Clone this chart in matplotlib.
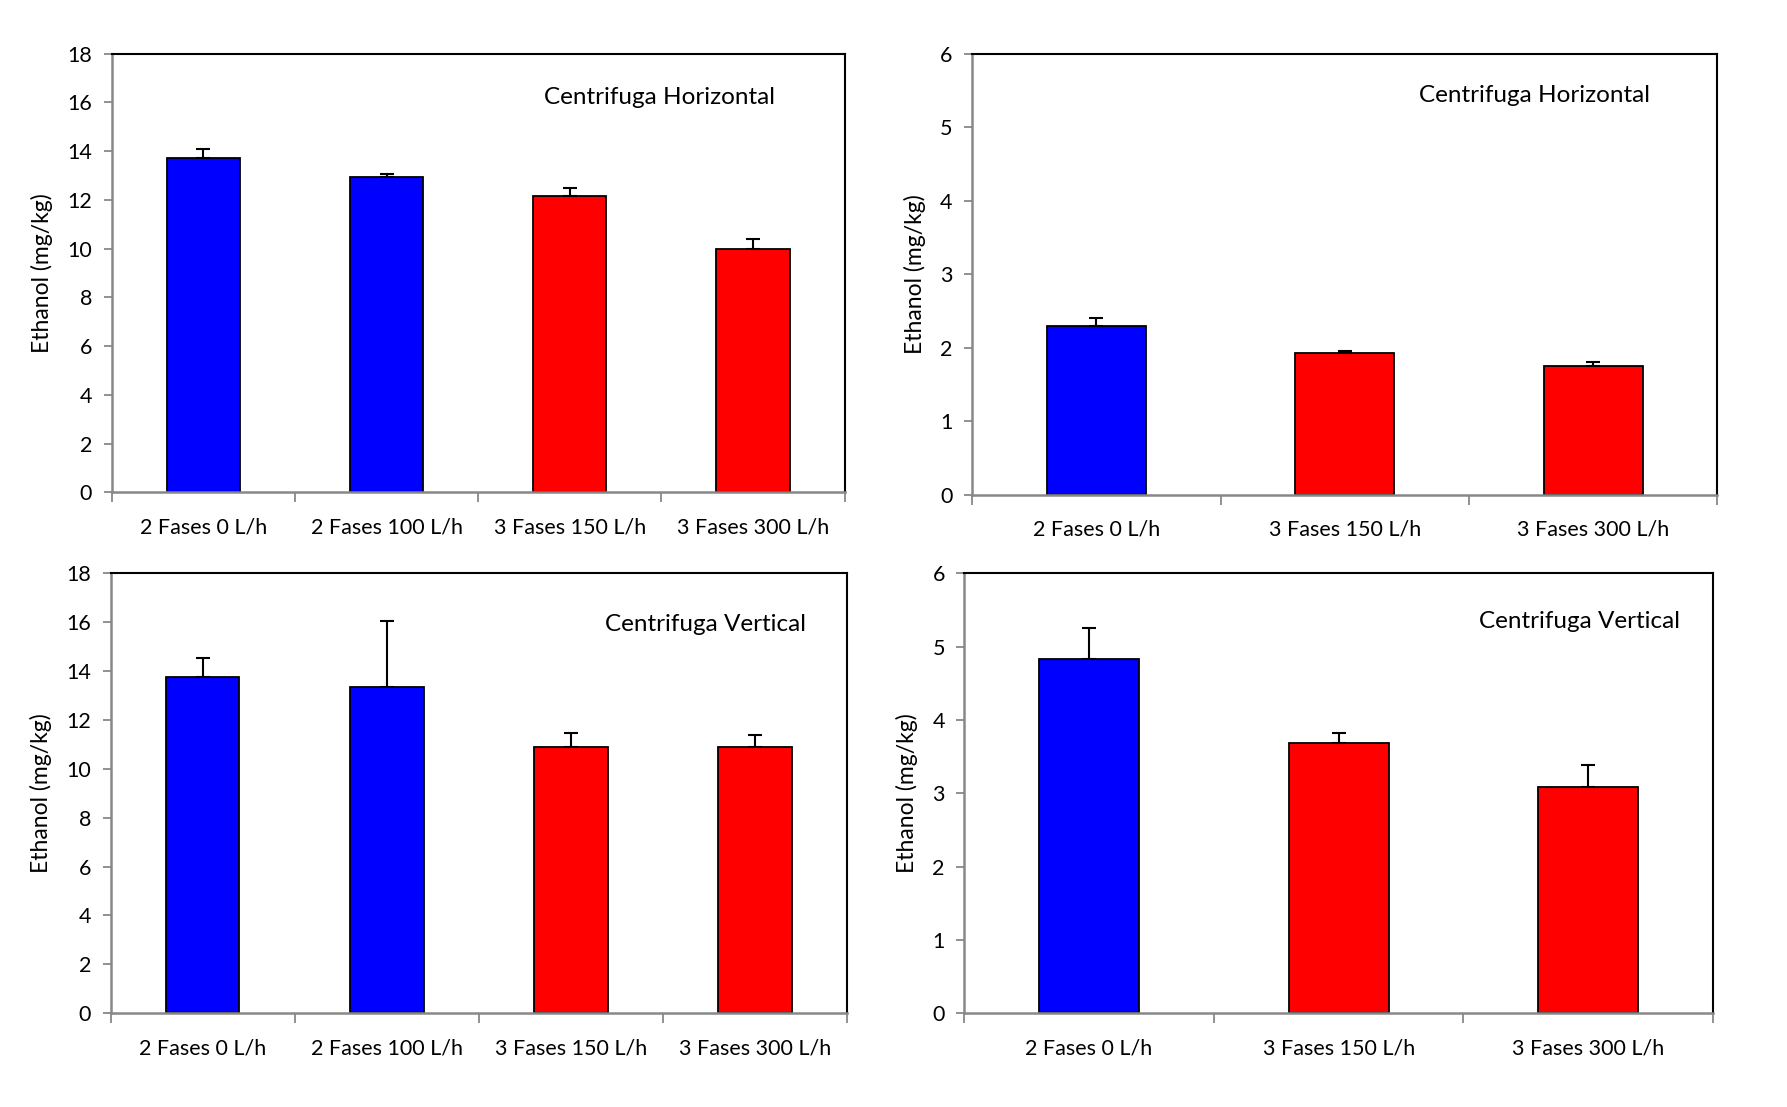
import matplotlib
matplotlib.use("Agg")
import matplotlib.pyplot as plt
import numpy as np

plt.rcParams['font.family'] = ['Lato', 'DejaVu Sans']

# Data
cats_4 = ["2 Fases 0 L/h", "2 Fases 100 L/h", "3 Fases 150 L/h", "3 Fases 300 L/h"]
cats_3 = ["2 Fases 0 L/h", "3 Fases 150 L/h", "3 Fases 300 L/h"]
colors_4 = ["#0000ff", "#0000ff", "#ff0000", "#ff0000"]
colors_3 = ["#0000ff", "#ff0000", "#ff0000"]

h_left_vals = [13.7, 12.95, 12.15, 10.0]
h_left_err = [0.4, 0.1, 0.32, 0.38]
h_right_vals = [2.29, 1.92, 1.75]
h_right_err = [0.11, 0.03, 0.05]
v_left_vals = [13.76, 13.34, 10.91, 10.91]
v_left_err = [0.78, 2.7, 0.56, 0.47]
v_right_vals = [4.83, 3.68, 3.09]
v_right_err = [0.42, 0.14, 0.30]

title_h = "Centrifuga Horizontal"
title_v = "Centrifuga Vertical"
ylabel = "Ethanol (mg/kg)"

fig = plt.figure(figsize=(17.87, 11.07), dpi=100)

panels = [
    ([0.0625, 0.5552, 0.4101, 0.3964], cats_4, h_left_vals, h_left_err, colors_4, 18, 2, title_h, (0.748, 0.901)),
    ([0.5440, 0.5532, 0.4171, 0.3984], cats_3, h_right_vals, h_right_err, colors_3, 6, 1, title_h, (0.755, 0.904)),
    ([0.0619, 0.0847, 0.4120, 0.3974], cats_4, v_left_vals, v_left_err, colors_4, 18, 2, title_v, (0.808, 0.883)),
    ([0.5396, 0.0847, 0.4190, 0.3974], cats_3, v_right_vals, v_right_err, colors_3, 6, 1, title_v, (0.822, 0.891)),
]

for rect, cats, vals, errs, cols, ymax, ystep, title, tpos in panels:
    ax = fig.add_axes(rect)
    x = np.arange(len(cats))
    ax.bar(x, vals, width=0.4, color=cols, edgecolor='black', linewidth=1.3, zorder=2)
    ax.errorbar(x, vals, yerr=[np.zeros(len(vals)), errs], fmt='none', ecolor='black',
                elinewidth=1.5, capsize=5, capthick=1.5, zorder=3)
    ax.set_xlim(-0.5, len(cats) - 0.5)
    ax.set_ylim(0, ymax)
    ax.set_yticks(np.arange(0, ymax + 0.01, ystep))
    ax.tick_params(axis='y', direction='out', length=6, width=1.3, color='#888888',
                   labelsize=15.5, pad=8)
    ax.set_xticks(np.arange(-0.5, len(cats), 1.0))
    ax.set_xticklabels([])
    ax.set_xticks(x, minor=True)
    ax.set_xticklabels(cats, minor=True, fontsize=15.5)
    ax.tick_params(axis='x', which='major', direction='out', length=7, width=1.3, color='#888888')
    ax.tick_params(axis='x', which='minor', length=0, pad=18)
    for side in ['left', 'bottom']:
        ax.spines[side].set_color('#888888')
        ax.spines[side].set_linewidth(1.8)
    for side in ['top', 'right']:
        ax.spines[side].set_color('black')
        ax.spines[side].set_linewidth(1.5)
    ax.set_ylabel(ylabel, fontsize=16.5, labelpad=10)
    ax.text(tpos[0], tpos[1], title, transform=ax.transAxes, ha='center', va='center', fontsize=17.5)

fig.savefig("out.png", dpi=100)
